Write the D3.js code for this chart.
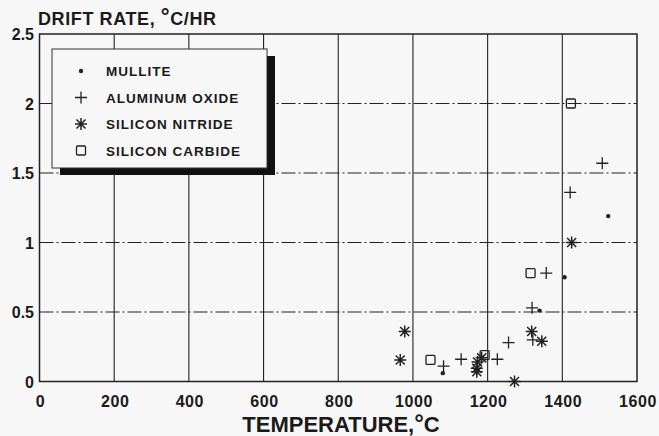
<!DOCTYPE html>
<html>
<head>
    <meta charset="UTF-8">
    <script src="https://d3js.org/d3.v7.min.js"></script>
    <style>
     body { margin: 0; background: #f7f7f7; }
     text { font-family: "Liberation Sans", Arial, sans-serif; font-weight: bold; fill: #1a1a1a; }
    </style>
</head>

<body>
    <div id="chart"></div>
    <script>
     // Data: [temperature degC, drift rate degC/hr]
     const mullite = [[1523, 1.19], [1406, 0.75], [1339, 0.51], [1080, 0.06]];
     const aluminumOxide = [[1507, 1.57], [1421, 1.36], [1357, 0.78], [1319, 0.53], [1321, 0.30],
                            [1256, 0.28], [1226, 0.16], [1129, 0.16], [1082, 0.11]];
     const siliconNitride = [[1425, 1.0], [1318, 0.36], [1345, 0.29], [978, 0.36], [966, 0.155],
                             [1184, 0.17], [1173, 0.14], [1171, 0.095], [1171, 0.07], [1272, 0.0]];
     const siliconCarbide = [[1423, 2.0], [1315, 0.78], [1192, 0.19], [1047, 0.155]];

     const seriesNames = ["MULLITE", "ALUMINUM OXIDE", "SILICON NITRIDE", "SILICON CARBIDE"];
     const seriesSymbols = ["dot", "plus", "star", "square"];
     const xTicks = [0, 200, 400, 600, 800, 1000, 1200, 1400, 1600];
     const yTicks = [0, 0.5, 1, 1.5, 2, 2.5];
     const yTickLabels = ["0", "0.5", "1", "1.5", "2", "2.5"];

     const W = 659, H = 436;
     const plot = {left: 39.5, right: 637, top: 34, bottom: 381.5};

     const svg = d3.select("#chart").append("svg")
                   .attr("width", W)
                   .attr("height", H);
     svg.append("rect").attr("width", W).attr("height", H).style("fill", "#f7f7f7");

     const x = d3.scaleLinear().domain([0, 1600]).range([plot.left, plot.right]);
     const y = d3.scaleLinear().domain([0, 2.5]).range([plot.bottom, plot.top]);

     // grid: vertical solid, horizontal dash-dot
     svg.append("g").selectAll("line")
        .data(xTicks.slice(1, -1))
        .join("line")
        .attr("x1", d => x(d)).attr("x2", d => x(d))
        .attr("y1", plot.top).attr("y2", plot.bottom)
        .style("stroke", "#222").style("stroke-width", 1.1);
     svg.append("g").selectAll("line")
        .data(yTicks.slice(1, -1))
        .join("line")
        .attr("x1", plot.left).attr("x2", plot.right)
        .attr("y1", d => y(d)).attr("y2", d => y(d))
        .style("stroke", "#222").style("stroke-width", 1.1)
        .style("stroke-dasharray", "14,3,2,3");

     svg.append("rect")
        .attr("x", plot.left).attr("y", plot.top)
        .attr("width", plot.right - plot.left).attr("height", plot.bottom - plot.top)
        .style("fill", "none").style("stroke", "#222").style("stroke-width", 1.5);

     // tick labels
     svg.append("g").selectAll("text")
        .data(xTicks)
        .join("text")
        .attr("x", d => x(d) + 1)
        .attr("y", 407)
        .attr("text-anchor", "middle")
        .style("font-size", "16px")
        .style("letter-spacing", "0.6px")
        .text(d => d);
     svg.append("g").selectAll("text")
        .data(yTicks)
        .join("text")
        .attr("x", 34)
        .attr("y", d => y(d) + 6)
        .attr("text-anchor", "end")
        .style("font-size", "16px")
        .text((d, i) => yTickLabels[i]);

     // axis titles
     const yt = svg.append("text")
        .attr("x", 38).attr("y", 25)
        .style("font-size", "18px")
        .style("letter-spacing", "0.6px");
     yt.append("tspan").text("DRIFT RATE, ");
     yt.append("tspan").text("°").style("font-size", "22px").attr("dy", -1);
     yt.append("tspan").text("C/HR").attr("dy", 1);

     const xt = svg.append("text")
        .attr("x", 341).attr("y", 432)
        .attr("text-anchor", "middle")
        .style("font-size", "22px");
     xt.append("tspan").text("TEMPERATURE,");
     xt.append("tspan").text("°").style("font-size", "24px").attr("dy", -1);
     xt.append("tspan").text("C").attr("dy", 1);

     // symbol drawing
     function drawSymbol(g, kind) {
         const st = "#222";
         if (kind === "dot") {
             g.append("circle").attr("r", 2.2).style("fill", st);
         } else if (kind === "plus") {
             g.append("path").attr("d", "M-6,0H6M0,-6V6")
              .style("stroke", st).style("stroke-width", 1.3).style("fill", "none");
         } else if (kind === "star") {
             g.append("path").attr("d", "M-6,0H6M0,-6V6M-4.5,-4.5L4.5,4.5M-4.5,4.5L4.5,-4.5")
              .style("stroke", st).style("stroke-width", 1.5).style("fill", "none");
         } else {
             g.append("rect").attr("x", -4.5).attr("y", -4.5).attr("width", 9).attr("height", 9)
              .attr("rx", 1)
              .style("stroke", st).style("stroke-width", 1.3).style("fill", "none");
         }
     }

     const allSeries = [mullite, aluminumOxide, siliconNitride, siliconCarbide];
     allSeries.forEach(function(data, i) {
         svg.append("g").selectAll("g")
            .data(data)
            .join("g")
            .attr("transform", d => `translate(${x(d[0])},${y(d[1])})`)
            .each(function() { drawSymbol(d3.select(this), seriesSymbols[i]); });
     });

     // legend with drop shadow
     const lg = svg.append("g");
     lg.append("rect").attr("x", 60).attr("y", 56).attr("width", 215).attr("height", 119)
       .style("fill", "#111");
     lg.append("rect").attr("x", 52).attr("y", 49).attr("width", 215).attr("height", 119)
       .style("fill", "#f7f7f7").style("stroke", "#333").style("stroke-width", 1);
     seriesNames.forEach(function(name, i) {
         const ry = 71 + i * 26.5;
         drawSymbol(lg.append("g").attr("transform", `translate(81,${ry})`), seriesSymbols[i]);
         lg.append("text").attr("x", 106).attr("y", ry + 5)
           .style("font-size", "13.5px")
           .style("letter-spacing", "1px")
           .text(name);
     });
    </script>
</body>

</html>
